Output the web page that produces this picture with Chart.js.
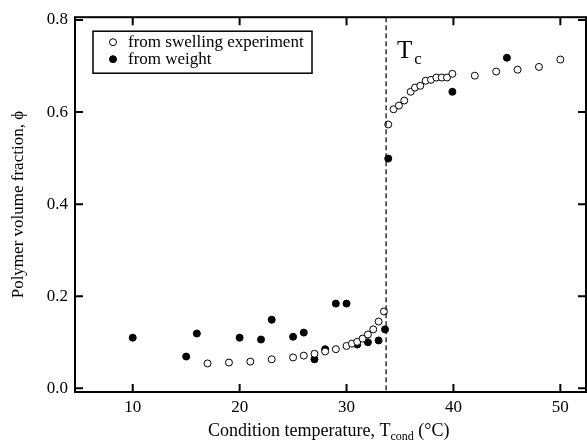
<!DOCTYPE html>
<html>
<head>
<meta charset="utf-8">
<script src="https://cdn.jsdelivr.net/npm/chart.js@4"></script>
<style>
  html, body { margin: 0; padding: 0; background: #fff; }
  #wrap { width: 587px; height: 443px; }
</style>
</head>
<body>
<div id="wrap"><canvas id="phiChart"></canvas></div>
<script>
// swelling experiment (open circles)
var swellT = [17, 19, 21, 23, 25, 26, 27, 28, 29, 30, 30.5, 31, 31.5, 32, 32.5, 33, 33.5,
              33.9, 34.4, 34.9, 35.4, 36, 36.4, 36.9, 37.4, 37.9, 38.4, 38.9, 39.4, 39.9, 42, 44, 46, 48, 50];
var swellPhi = [0.054, 0.056, 0.058, 0.063, 0.067, 0.071, 0.075, 0.080, 0.085, 0.092, 0.097, 0.101, 0.108, 0.117, 0.128, 0.145, 0.167,
                0.573, 0.606, 0.614, 0.625, 0.644, 0.653, 0.657, 0.668, 0.670, 0.675, 0.675, 0.675, 0.683, 0.679, 0.688, 0.692, 0.698, 0.714];
// from weight (filled circles)
var weightT = [10, 15, 16, 20, 22, 23, 25, 26, 27, 28, 29, 30, 31, 32, 33, 33.6, 33.9, 39.9, 45];
var weightPhi = [0.110, 0.069, 0.119, 0.110, 0.106, 0.149, 0.112, 0.121, 0.063, 0.085, 0.184, 0.184, 0.095, 0.100, 0.104, 0.128, 0.499, 0.644, 0.718];

var xTicks = [10, 20, 30, 40, 50];
var yTicks = [0.0, 0.2, 0.4, 0.6, 0.8];
var Tc = 33.7;
var seriesLabels = ['from swelling experiment', 'from weight'];

var serif = '"Liberation Serif", "Times New Roman", serif';

function toPoints(xs, ys) {
    return xs.map(function(x, i) { return {x: x, y: ys[i]}; });
}

// frame, inward ticks on all four sides, Tc line, legend, x title
var framePlugin = {
    id: 'frame',
    afterDatasetsDraw: function(chart) {
        var ctx = chart.ctx, a = chart.chartArea;
        var xs = chart.scales.x;
        ctx.save();
        // dashed Tc line
        var tx = xs.getPixelForValue(Tc);
        ctx.strokeStyle = '#000';
        ctx.lineWidth = 1.2;
        ctx.setLineDash([5, 3]);
        ctx.beginPath();
        ctx.moveTo(tx, a.top);
        ctx.lineTo(tx, a.bottom);
        ctx.stroke();
        ctx.setLineDash([]);

        // Tc label
        ctx.fillStyle = '#000';
        ctx.textBaseline = 'alphabetic';
        ctx.textAlign = 'left';
        ctx.font = '25px ' + serif;
        ctx.fillText('T', tx + 11, 58);
        var tw = ctx.measureText('T').width;
        ctx.font = '17px ' + serif;
        ctx.fillText('c', tx + 13 + tw, 64);
        ctx.restore();
    },
    afterDraw: function(chart) {
        var ctx = chart.ctx, a = chart.chartArea;
        var xs = chart.scales.x, ys = chart.scales.y;
        ctx.save();
        ctx.strokeStyle = '#000';
        ctx.lineWidth = 2;
        ctx.strokeRect(a.left, a.top, a.right - a.left, a.bottom - a.top);
        var tl = 8;
        ctx.beginPath();
        xTicks.forEach(function(v) {
            var px = xs.getPixelForValue(v);
            ctx.moveTo(px, a.bottom); ctx.lineTo(px, a.bottom - tl);
            ctx.moveTo(px, a.top); ctx.lineTo(px, a.top + tl);
        });
        yTicks.forEach(function(v) {
            var py = ys.getPixelForValue(v);
            ctx.moveTo(a.left, py); ctx.lineTo(a.left + tl, py);
            ctx.moveTo(a.right, py); ctx.lineTo(a.right - tl, py);
        });
        ctx.stroke();

        // legend box
        var lx = a.left + 18, ly = a.top + 14, lw = 219, lh = 42;
        ctx.fillStyle = '#fff';
        ctx.fillRect(lx, ly, lw, lh);
        ctx.lineWidth = 1.5;
        ctx.strokeRect(lx, ly, lw, lh);
        ctx.font = '17px ' + serif;
        ctx.textBaseline = 'middle';
        ctx.textAlign = 'left';
        chart.data.datasets.forEach(function(ds, i) {
            var cy = ly + 11 + i * 17;
            ctx.beginPath();
            ctx.arc(lx + 20, cy, ds.pointRadius, 0, Math.PI * 2);
            ctx.fillStyle = ds.pointBackgroundColor;
            ctx.fill();
            ctx.lineWidth = 1;
            ctx.strokeStyle = '#000';
            ctx.stroke();
            ctx.fillStyle = '#000';
            ctx.fillText(ds.label, lx + 35, cy);
        });

        // x axis title with subscript
        var x0 = 208;
        var yb = 436;
        var p1 = 'Condition temperature, T', p2 = 'cond', p3 = ' (°C)';
        ctx.textBaseline = 'alphabetic';
        ctx.fillStyle = '#000';
        ctx.font = '18px ' + serif;
        var w1 = ctx.measureText(p1).width;
        ctx.fillText(p1, x0, yb);
        ctx.font = '12px ' + serif;
        var w2 = ctx.measureText(p2).width;
        ctx.fillText(p2, x0 + w1, yb + 4);
        ctx.font = '18px ' + serif;
        ctx.fillText(p3, x0 + w1 + w2, yb);
        ctx.restore();
    }
};

new Chart(document.getElementById('phiChart').getContext('2d'), {
    type: 'scatter',
    data: {
        datasets: [{
            label: seriesLabels[0],
            data: toPoints(swellT, swellPhi),
            pointRadius: 3.5,
            pointBackgroundColor: '#fff',
            pointBorderColor: '#000',
            pointBorderWidth: 1,
            pointHoverRadius: 3.5
        }, {
            label: seriesLabels[1],
            data: toPoints(weightT, weightPhi),
            pointRadius: 3.5,
            pointBackgroundColor: '#000',
            pointBorderColor: '#000',
            pointBorderWidth: 1,
            pointHoverRadius: 3.5
        }]
    },
    options: {
        responsive: true,
        maintainAspectRatio: false,
        animation: false,
        layout: { autoPadding: false, padding: { top: 15, right: 1, left: 0, bottom: 0 } },
        plugins: {
            legend: { display: false },
            tooltip: { enabled: false }
        },
        scales: {
            x: {
                type: 'linear',
                min: 4.6,
                max: 52.4,
                grid: { display: false, drawTicks: false },
                border: { display: false },
                afterBuildTicks: function(scale) {
                    scale.ticks = xTicks.map(function(v) { return {value: v}; });
                },
                afterFit: function(scale) { scale.height = 51; },
                ticks: {
                    padding: 5,
                    color: '#000',
                    font: { family: serif, size: 17 },
                    maxRotation: 0
                }
            },
            y: {
                type: 'linear',
                min: -0.008,
                max: 0.806,
                grid: { display: false, drawTicks: false },
                border: { display: false },
                afterBuildTicks: function(scale) {
                    scale.ticks = yTicks.map(function(v) { return {value: v}; });
                },
                afterFit: function(scale) { scale.width = 75; },
                title: {
                    display: true,
                    text: 'Polymer volume fraction, ϕ',
                    color: '#000',
                    font: { family: serif, size: 17 },
                    padding: { top: 8, bottom: 0 }
                },
                ticks: {
                    padding: 7,
                    color: '#000',
                    font: { family: serif, size: 17 },
                    callback: function(v) { return v.toFixed(1); }
                }
            }
        }
    },
    plugins: [framePlugin]
});
</script>
</body>
</html>
